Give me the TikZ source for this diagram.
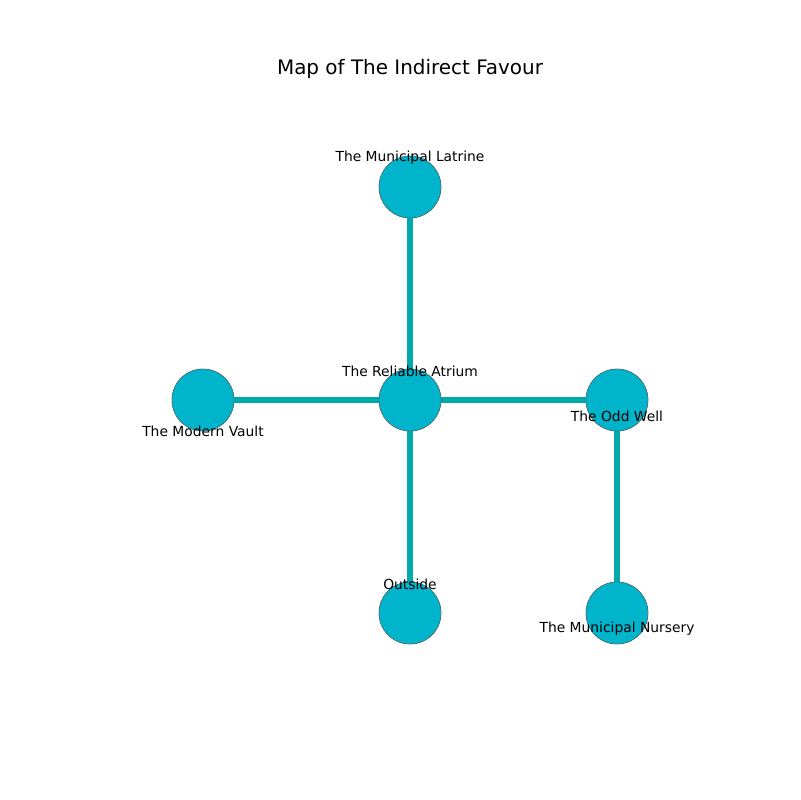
\documentclass[tikz,border=0pt]{standalone}
\usepackage{fontspec}
\setmainfont{DejaVu Sans}
\definecolor{roomfill}{RGB}{0,180,204}
\definecolor{passage}{RGB}{0,170,170}
\begin{document}
\begin{tikzpicture}
    [
        x=0.01in, y=-0.01in,
        room/.style={circle, fill=roomfill, draw=gray!70!black, line width=0.3pt, minimum size=0.62in, inner sep=0pt},
        tag/.style={inner sep=0pt, font=\fontsize{10}{12}\selectfont},
        path/.style={passage, line width=4pt},
    ]
\useasboundingbox (0,0) rectangle (800,800);
\node[inner sep=0pt, font=\fontsize{14.4}{17}\selectfont] (title) at (410,69) {Map of The Indirect Favour};

% rooms
\node[room] (latrine) at (410,187) {};
\node[room] (atrium) at (410,400) {};
\node[room] (vault) at (203,400) {};
\node[room] (well) at (617,400) {};
\node[room] (outside) at (410,613) {};
\node[room] (nursery) at (617,613) {};

% passages
\draw[path] (latrine) -- (atrium);
\draw[path] (vault) -- (atrium);
\draw[path] (atrium) -- (well);
\draw[path] (atrium) -- (outside);
\draw[path] (well) -- (nursery);

% redraw rooms on top
\foreach \p in {{410,187}, {410,400}, {203,400}, {617,400}, {410,613}, {617,613}}
    \node[room] at (\p) {};

% labels
\node[tag] (latrine-t) at (410,158) {The Municipal Latrine};
\node[tag] (atrium-t) at (410,371) {The Reliable Atrium};
\node[tag] (vault-t) at (203,431) {The Modern Vault};
\node[tag] (well-t) at (617,416) {The Odd Well};
\node[tag] (outside-t) at (410,584) {Outside};
\node[tag] (nursery-t) at (617,629) {The Municipal Nursery};
\end{tikzpicture}
\end{document}
